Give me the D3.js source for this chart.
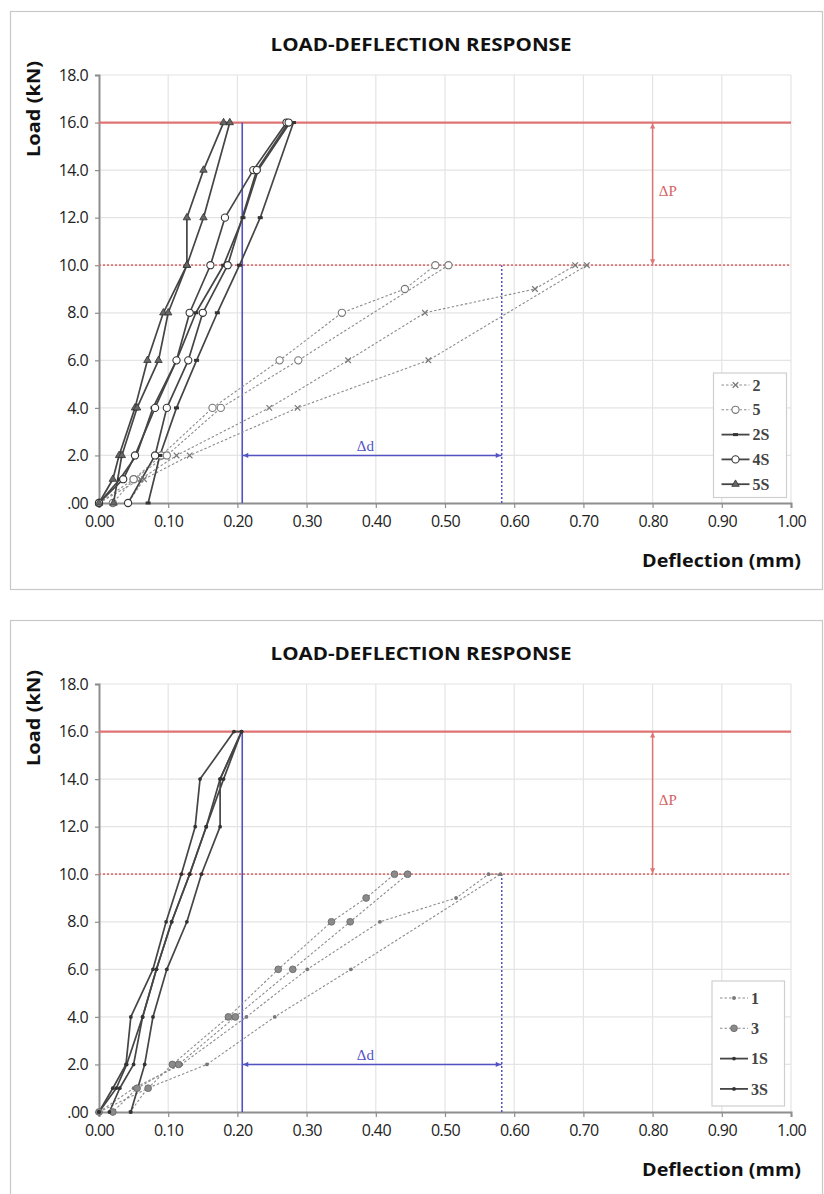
<!DOCTYPE html>
<html><head><meta charset="utf-8">
<script src="https://cdn.jsdelivr.net/npm/d3@7"></script>
<style>body{margin:0;background:#fff}svg{display:block}</style>
</head><body>
<script>
// ---------- data ----------
const xTickValues = [0,0.1,0.2,0.3,0.4,0.5,0.6,0.7,0.8,0.9,1.0];
const xTickLabels = ["0.00","0.10","0.20","0.30","0.40","0.50","0.60","0.70","0.80","0.90","1.00"];
const yTickValues = [0,2,4,6,8,10,12,14,16,18];
const yTickLabels = [".00","2.0","4.0","6.0","8.0","10.0","12.0","14.0","16.0","18.0"];

// top chart
const s2_x  = [0.000,0.060,0.112,0.246,0.360,0.471,0.630,0.688,0.705,0.476,0.287,0.131,0.065,0.042];
const s2_y  = [0,1,2,4,6,8,9,10,10,6,4,2,1,0];
const s5_x  = [0.000,0.050,0.090,0.164,0.261,0.351,0.442,0.486,0.505,0.288,0.176,0.098,0.050,0.020];
const s5_y  = [0,1,2,4,6,8,9,10,10,6,4,2,1,0];
const s2S_x = [0.000,0.030,0.054,0.078,0.112,0.140,0.180,0.208,0.230,0.276,0.281,0.233,0.203,0.171,0.141,0.112,0.088,0.071];
const s2S_y = [0,1,2,4,6,8,10,12,14,16,16,12,10,8,6,4,2,0];
const s4S_x = [0.000,0.035,0.052,0.081,0.112,0.131,0.161,0.182,0.223,0.271,0.274,0.228,0.186,0.150,0.129,0.098,0.081,0.042];
const s4S_y = [0,1,2,4,6,8,10,12,14,16,16,14,10,8,6,4,2,0];
const s5S_x = [0.000,0.020,0.029,0.052,0.070,0.093,0.127,0.127,0.151,0.180,0.189,0.151,0.127,0.100,0.086,0.055,0.033,0.021];
const s5S_y = [0,1,2,4,6,8,10,12,14,16,16,12,10,8,6,4,2,0];

// bottom chart
const s1_x  = [0.000,0.050,0.119,0.213,0.301,0.406,0.516,0.563,0.580,0.364,0.254,0.156,0.070,0.045];
const s1_y  = [0,1,2,4,6,8,9,10,10,6,4,2,1,0];
const s3_x  = [0.000,0.071,0.106,0.187,0.259,0.336,0.386,0.427,0.446,0.363,0.280,0.197,0.115,0.055,0.020];
const s3_y  = [0,1,2,4,6,8,9,10,10,8,6,4,2,1,0];
const s1S_x = [0.000,0.020,0.039,0.046,0.078,0.097,0.119,0.139,0.146,0.195,0.206,0.175,0.155,0.131,0.105,0.083,0.063,0.050,0.030,0.015];
const s1S_y = [0,1,2,4,6,8,10,12,14,16,16,14,12,10,8,6,4,2,1,0];
const s3S_x = [0.000,0.025,0.040,0.063,0.083,0.105,0.131,0.155,0.180,0.206,0.175,0.175,0.148,0.127,0.098,0.078,0.066,0.046];
const s3S_y = [0,1,2,4,6,8,10,12,14,16,14,12,10,8,6,4,2,0];

const topNames = ["2","5","2S","4S","5S"];
const bottomNames = ["1","3","1S","3S"];

// reference levels
const peakLoad = 16, serviceLoad = 10;
const dLeft = 0.207, dRight = 0.582, dLoad = 2.0, pAt = 0.80;

// ---------- drawing ----------
const W = 824, H = 1194;
const svg = d3.select("body").append("svg").attr("width", W).attr("height", H);

const DASH = "#8c8c8c", SOLID = "#454545";
const RED = "#e07474", BLUE = "#5252c4";

function marker(g, type, px, py, col) {
  if (type === "x") {
    g.append("path").attr("d", d3.symbol(d3.symbolTimes, 22)()).attr("transform", `translate(${px},${py})`)
      .attr("fill", "none").attr("stroke", col).attr("stroke-width", 1.2);
  } else if (type === "circle") {
    g.append("circle").attr("cx", px).attr("cy", py).attr("r", 3.6).attr("fill", "#fff").attr("stroke", col).attr("stroke-width", 1.1);
  } else if (type === "fcircle") {
    g.append("circle").attr("cx", px).attr("cy", py).attr("r", 3.4).attr("fill", "#8a8a8a").attr("stroke", "#666").attr("stroke-width", 0.8);
  } else if (type === "tri") {
    g.append("path").attr("d", d3.symbol(d3.symbolTriangle, 24)()).attr("transform", `translate(${px},${py})`)
      .attr("fill", "#666").attr("stroke", col).attr("stroke-width", 0.8);
  } else if (type === "dot") {
    g.append("circle").attr("cx", px).attr("cy", py).attr("r", 1.9).attr("fill", col);
  } else if (type === "bar") {
    g.append("rect").attr("x", px - 2.5).attr("y", py - 1.5).attr("width", 5).attr("height", 3).attr("fill", col);
  }
}

function arrowHead(g, px, py, dir, col) {
  const s = 5, w = 2.6;
  let d;
  if (dir === "up") d = `M${px},${py} L${px-w},${py+s} L${px+w},${py+s} Z`;
  if (dir === "down") d = `M${px},${py} L${px-w},${py-s} L${px+w},${py-s} Z`;
  if (dir === "left") d = `M${px},${py} L${px+s},${py-w} L${px+s},${py+w} Z`;
  if (dir === "right") d = `M${px},${py} L${px-s},${py-w} L${px-s},${py+w} Z`;
  g.append("path").attr("d", d).attr("fill", col);
}

function drawChart(off, series, legend) {
  const g = svg.append("g");
  // frame
  g.append("rect").attr("x", 10.5).attr("y", 11.5 + off).attr("width", 812).attr("height", 578)
    .attr("fill", "#fff").attr("stroke", "#c8c8c8").attr("stroke-width", 1.2);

  const x = d3.scaleLinear().domain([0, 1]).range([99, 791]);
  const y = d3.scaleLinear().domain([0, 18]).range([503 + off, 75 + off]);

  // title
  g.append("text").attr("x", 421).attr("y", 50.5 + off).attr("text-anchor", "middle")
    .attr("font-family", "Open Sans, sans-serif").attr("font-weight", 700).attr("font-size", 17)
    .attr("textLength", 301).attr("lengthAdjust", "spacingAndGlyphs").attr("fill", "#111")
    .text("LOAD-DEFLECTION RESPONSE");

  // grid
  g.append("g").selectAll("line").data(xTickValues.filter(d => d > 0)).join("line")
    .attr("x1", d => x(d)).attr("x2", d => x(d)).attr("y1", y(0)).attr("y2", y(18))
    .attr("stroke", "#e4e4e4").attr("stroke-width", 1.2);
  g.append("g").selectAll("line").data(yTickValues.filter(d => d > 0)).join("line")
    .attr("x1", x(0)).attr("x2", x(1)).attr("y1", d => y(d)).attr("y2", d => y(d))
    .attr("stroke", "#e4e4e4").attr("stroke-width", 1.2);

  // axes
  const ax = g.append("g").attr("transform", `translate(0,${y(0)})`)
    .call(d3.axisBottom(x).tickValues(xTickValues).tickFormat((d, i) => xTickLabels[i]).tickSize(5).tickPadding(8));
  const ay = g.append("g").attr("transform", `translate(${x(0)},0)`)
    .call(d3.axisLeft(y).tickValues(yTickValues).tickFormat((d, i) => yTickLabels[i]).tickSize(4).tickPadding(7));
  [ax, ay].forEach(a => {
    a.select(".domain").attr("stroke", "#8e8e8e").attr("stroke-width", 2);
    a.selectAll(".tick line").attr("stroke", "#8e8e8e").attr("stroke-width", 1.2);
    a.selectAll(".tick text").attr("font-family", "Open Sans, sans-serif").attr("font-size", 16)
      .attr("letter-spacing", -0.6).attr("fill", "#222");
  });

  // axis titles
  g.append("text").attr("transform", `translate(40,${109 + off}) rotate(-90)`).attr("text-anchor", "middle")
    .attr("font-family", "Open Sans, sans-serif").attr("font-weight", 700).attr("font-size", 17)
    .attr("textLength", 96).attr("lengthAdjust", "spacingAndGlyphs").attr("fill", "#111").text("Load (kN)");
  g.append("text").attr("x", 801).attr("y", 567 + off).attr("text-anchor", "end")
    .attr("font-family", "Open Sans, sans-serif").attr("font-weight", 700).attr("font-size", 17)
    .attr("textLength", 159).attr("lengthAdjust", "spacingAndGlyphs").attr("fill", "#111").text("Deflection (mm)");

  // red reference lines
  g.append("line").attr("x1", x(0)).attr("x2", x(1)).attr("y1", y(peakLoad)).attr("y2", y(peakLoad))
    .attr("stroke", RED).attr("stroke-width", 2.2);
  g.append("line").attr("x1", x(0)).attr("x2", x(1)).attr("y1", y(serviceLoad)).attr("y2", y(serviceLoad))
    .attr("stroke", RED).attr("stroke-width", 1.8).attr("stroke-dasharray", "2,2");

  // blue reference lines
  g.append("line").attr("x1", x(dLeft)).attr("x2", x(dLeft)).attr("y1", y(0)).attr("y2", y(peakLoad))
    .attr("stroke", BLUE).attr("stroke-width", 1.6);
  g.append("line").attr("x1", x(dRight)).attr("x2", x(dRight)).attr("y1", y(0)).attr("y2", y(serviceLoad))
    .attr("stroke", BLUE).attr("stroke-width", 1.5).attr("stroke-dasharray", "2,2");
  g.append("line").attr("x1", x(dLeft)).attr("x2", x(dRight)).attr("y1", y(dLoad)).attr("y2", y(dLoad))
    .attr("stroke", BLUE).attr("stroke-width", 1.5);
  arrowHead(g, x(dLeft) + 1, y(dLoad), "left", BLUE);
  arrowHead(g, x(dRight) - 1, y(dLoad), "right", BLUE);
  g.append("text").attr("x", x(0.385)).attr("y", y(dLoad) - 4).attr("text-anchor", "middle")
    .attr("font-family", "Liberation Serif, serif").attr("font-size", 15).attr("fill", BLUE).text("Δd");

  // ΔP arrow
  g.append("line").attr("x1", x(pAt)).attr("x2", x(pAt)).attr("y1", y(peakLoad)).attr("y2", y(serviceLoad))
    .attr("stroke", RED).attr("stroke-width", 1.5);
  arrowHead(g, x(pAt), y(peakLoad) + 1, "up", RED);
  arrowHead(g, x(pAt), y(serviceLoad) - 1, "down", RED);
  g.append("text").attr("x", x(0.809)).attr("y", y(12.9)).attr("text-anchor", "start")
    .attr("font-family", "Liberation Serif, serif").attr("font-size", 15).attr("fill", "#d46464").text("ΔP");

  // series
  const line = d3.line().x(d => x(d[0])).y(d => y(d[1]));
  series.forEach(s => {
    const pts = s.xs.map((v, i) => [v, s.ys[i]]);
    g.append("path").datum(pts).attr("d", line).attr("fill", "none")
      .attr("stroke", s.dashed ? DASH : SOLID).attr("stroke-width", s.dashed ? 1.1 : 1.7)
      .attr("stroke-dasharray", s.dashed ? "2.5,2" : null).attr("stroke-linejoin", "round");
  });
  series.forEach(s => {
    const col = s.dashed ? "#777" : "#333";
    s.xs.forEach((v, i) => marker(g, s.mark, x(v), y(s.ys[i]), col));
  });

  // legend
  const L = legend;
  g.append("rect").attr("x", L.x0).attr("y", L.y0 + off).attr("width", L.x1 - L.x0).attr("height", L.y1 - L.y0)
    .attr("fill", "#fff").attr("stroke", "#cfcfcf").attr("stroke-width", 1.2);
  series.forEach((s, i) => {
    const cy = L.first + off + i * L.step;
    g.append("line").attr("x1", L.x0 + 8).attr("x2", L.x0 + 36).attr("y1", cy).attr("y2", cy)
      .attr("stroke", s.dashed ? DASH : SOLID).attr("stroke-width", s.dashed ? 1.1 : 1.8)
      .attr("stroke-dasharray", s.dashed ? "2.5,2" : null);
    marker(g, s.mark, L.x0 + 22, cy, s.dashed ? "#777" : "#333");
    g.append("text").attr("x", L.x0 + 39).attr("y", cy).attr("dy", "0.35em")
      .attr("font-family", "Liberation Serif, serif").attr("font-weight", 700).attr("font-size", 16)
      .attr("fill", "#444").text(s.name);
  });
}

const topSeries = [
  {name: topNames[0], xs: s2_x,  ys: s2_y,  dashed: true,  mark: "x"},
  {name: topNames[1], xs: s5_x,  ys: s5_y,  dashed: true,  mark: "circle"},
  {name: topNames[2], xs: s2S_x, ys: s2S_y, dashed: false, mark: "bar"},
  {name: topNames[3], xs: s4S_x, ys: s4S_y, dashed: false, mark: "circle"},
  {name: topNames[4], xs: s5S_x, ys: s5S_y, dashed: false, mark: "tri"}
];
const bottomSeries = [
  {name: bottomNames[0], xs: s1_x,  ys: s1_y,  dashed: true,  mark: "dot"},
  {name: bottomNames[1], xs: s3_x,  ys: s3_y,  dashed: true,  mark: "fcircle"},
  {name: bottomNames[2], xs: s1S_x, ys: s1S_y, dashed: false, mark: "dot"},
  {name: bottomNames[3], xs: s3S_x, ys: s3S_y, dashed: false, mark: "dot"}
];

drawChart(0, topSeries, {x0: 713.5, x1: 786.5, y0: 373, y1: 497.5, first: 385, step: 24.8});
drawChart(609, bottomSeries, {x0: 712, x1: 784.5, y0: 372, y1: 497, first: 389, step: 30.3});
</script>
</body></html>
